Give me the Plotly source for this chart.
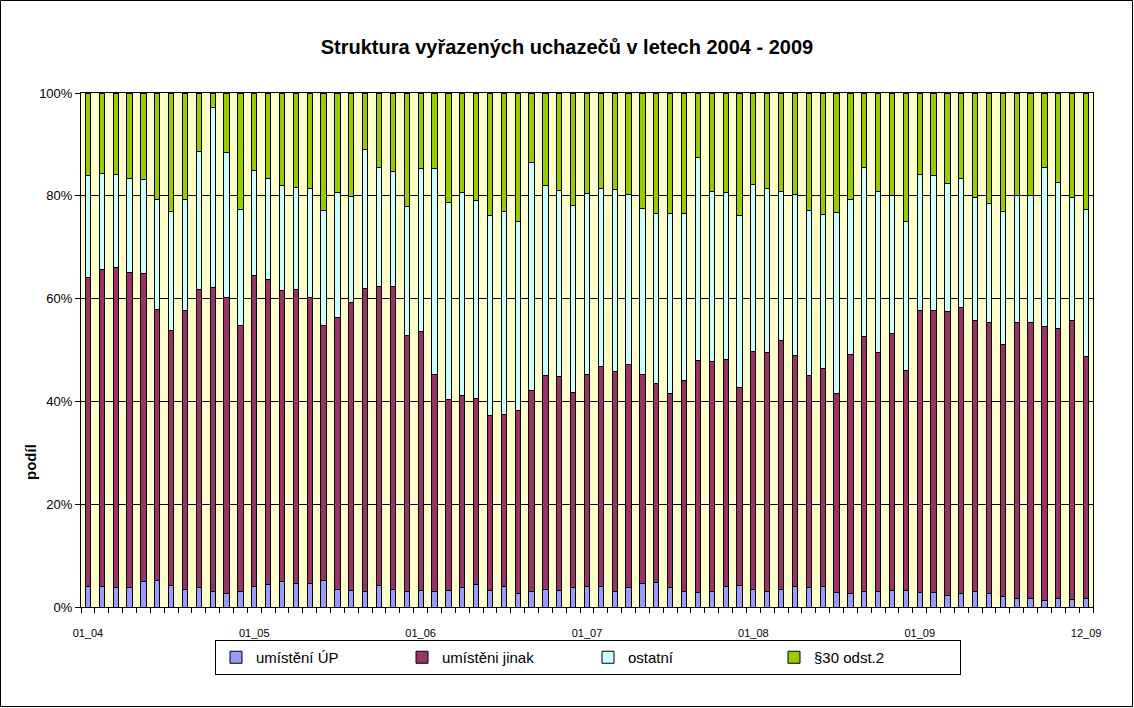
import plotly.graph_objects as go

# --- data (percent shares per month) ---
tick_labels = ["01_04", "01_05", "01_06", "01_07", "01_08", "01_09", "12_09"]
tick_index = [0, 12, 24, 36, 48, 60, 72]

umisteni_up = [4.0, 4.0, 3.8, 3.8, 4.9, 5.2, 4.2, 3.4, 3.7, 3.0, 2.6, 3.1,
               4.0, 4.3, 4.9, 4.6, 4.6, 5.1, 3.5, 3.3, 3.1, 4.1, 3.5, 3.0,
               3.3, 3.0, 3.3, 3.8, 4.4, 3.3, 4.0, 2.7, 3.1, 3.5, 3.3, 3.8,
               4.0, 4.0, 3.1, 3.8, 4.6, 4.7, 3.8, 3.1, 2.8, 3.0, 3.9, 4.2,
               3.5, 3.1, 3.4, 3.9, 3.7, 3.9, 2.8, 2.7, 3.1, 3.1, 3.3, 3.3,
               2.8, 2.8, 2.3, 2.6, 3.1, 2.6, 2.1, 1.6, 1.6, 1.2, 1.7, 1.5,
               1.6]
umisteni_jinak = [60.1, 61.7, 62.2, 61.3, 59.9, 52.7, 49.6, 54.3, 58.1, 59.2, 57.7, 51.7,
                  60.5, 59.5, 56.6, 57.2, 55.7, 49.7, 52.8, 56.0, 58.8, 58.2, 58.9, 49.9,
                  50.3, 42.2, 37.1, 37.4, 36.1, 33.9, 33.4, 35.5, 39.1, 41.5, 41.5, 38.0,
                  41.2, 42.7, 42.8, 43.3, 40.6, 38.8, 37.8, 40.9, 45.2, 44.7, 44.2, 38.5,
                  46.3, 46.5, 48.4, 45.0, 41.3, 42.5, 38.8, 46.5, 49.6, 46.4, 49.9, 42.7,
                  54.8, 54.8, 55.1, 55.7, 52.6, 52.7, 49.0, 53.8, 53.8, 53.4, 52.4, 54.3,
                  47.1]
ostatni = [19.8, 18.6, 18.1, 18.2, 18.3, 21.3, 23.1, 21.6, 26.9, 35.0, 28.1, 22.6,
           20.5, 19.5, 20.6, 19.9, 21.2, 22.3, 24.4, 20.6, 27.1, 23.3, 22.4, 25.0,
           31.8, 40.2, 38.3, 39.5, 38.6, 38.9, 39.5, 36.8, 44.2, 37.0, 36.2, 36.4,
           35.2, 34.7, 35.3, 33.2, 32.3, 33.1, 35.0, 32.6, 39.5, 33.1, 32.6, 33.4,
           32.4, 31.9, 29.1, 31.3, 32.2, 30.0, 35.2, 30.1, 32.9, 31.3, 26.8, 29.0,
           26.5, 26.4, 25.0, 25.0, 24.0, 23.3, 25.8, 24.7, 24.7, 31.0, 28.4, 23.9,
           28.7]
par30 = [16.1, 15.7, 15.9, 16.7, 16.9, 20.8, 23.1, 20.7, 11.3, 2.8, 11.6, 22.6,
         15.0, 16.7, 17.9, 18.3, 18.5, 22.9, 19.3, 20.1, 11.0, 14.4, 15.2, 22.1,
         14.6, 14.6, 21.3, 19.3, 20.9, 23.9, 23.1, 25.0, 13.6, 18.0, 19.0, 21.8,
         19.6, 18.6, 18.8, 19.7, 22.5, 23.4, 23.4, 23.4, 12.5, 19.2, 19.3, 23.9,
         17.8, 18.5, 19.1, 19.8, 22.8, 23.6, 23.2, 20.7, 14.4, 19.2, 20.0, 25.0,
         15.9, 16.0, 17.6, 16.7, 20.3, 21.4, 23.1, 19.9, 19.9, 14.4, 17.5, 20.3,
         22.6]

series = [
    ("umístění ÚP", umisteni_up, "#9999FF"),
    ("umístěni jinak", umisteni_jinak, "#993366"),
    ("ostatní", ostatni, "#CCFFFF"),
    ("§30 odst.2", par30, "#99CC00"),
]

n = len(umisteni_up)
x = list(range(n))

FONT = "Liberation Sans, Arial, sans-serif"

fig = go.Figure()
for name, vals, color in series:
    fig.add_trace(go.Bar(
        x=x, y=vals, name=name,
        marker=dict(color=color, line=dict(color="black", width=1)),
    ))

L, R, T, B = 81, 1093, 93, 607
W, H = 1134, 708
pw, ph = R - L, B - T

fig.update_layout(
    width=W, height=H,
    margin=dict(l=L, r=W - R, t=T, b=H - B),
    barmode="stack", barnorm="percent", bargap=0.62,
    paper_bgcolor="white", plot_bgcolor="#FFFFCC",
    font=dict(family=FONT, color="black"),
    title=dict(text="<b>Struktura vyřazených uchazečů v letech 2004 - 2009</b>",
               x=0.5, xref="container", xanchor="center",
               y=1 - 47 / H, yref="container", yanchor="middle",
               font=dict(size=20, family=FONT, color="black")),
    showlegend=True,
    legend=dict(orientation="h", x=(588 - L) / pw, xanchor="center",
                y=(B - 640) / ph, yanchor="top",
                bordercolor="black", borderwidth=1, bgcolor="white",
                font=dict(size=15, family=FONT),
                entrywidth=141, entrywidthmode="pixels",
                traceorder="normal"),
    xaxis=dict(range=[-0.5, n - 0.5], tickmode="array", tickvals=tick_index,
               ticktext=tick_labels, ticks="", showgrid=False, zeroline=False,
               tickfont=dict(size=11, family=FONT), ticklabelstandoff=16,
               showline=True, linecolor="black", linewidth=1, mirror=True,
               minor=dict(ticks="outside", ticklen=5, tickcolor="black",
                          tick0=-0.5, dtick=1, showgrid=False)),
    yaxis=dict(range=[0, 100], tickmode="linear", tick0=0, dtick=20,
               ticksuffix="%", ticks="outside", ticklen=5, tickcolor="black",
               showgrid=True, gridcolor="black", gridwidth=1, zeroline=False,
               tickfont=dict(size=13, family=FONT),
               showline=True, linecolor="black", linewidth=1, mirror=True),
)

fig.add_annotation(text="<b>podíl</b>", textangle=-90, xref="paper", yref="paper",
                   x=(30 - L) / pw, y=(B - 462) / ph, xanchor="center", yanchor="middle",
                   showarrow=False,
                   font=dict(size=15, family=FONT, color="black"))

# outer chart border
fig.add_shape(type="rect", xref="paper", yref="paper",
              x0=(0.5 - L) / pw, x1=(W - 1.5 - L) / pw,
              y0=(B - (H - 1.5)) / ph, y1=(B - 0.5) / ph,
              line=dict(color="black", width=1), fillcolor="rgba(0,0,0,0)", layer="below")

fig.write_html("out.html", config={"displayModeBar": False},
               post_script="document.body.style.margin='0';document.body.style.overflow='hidden';")
